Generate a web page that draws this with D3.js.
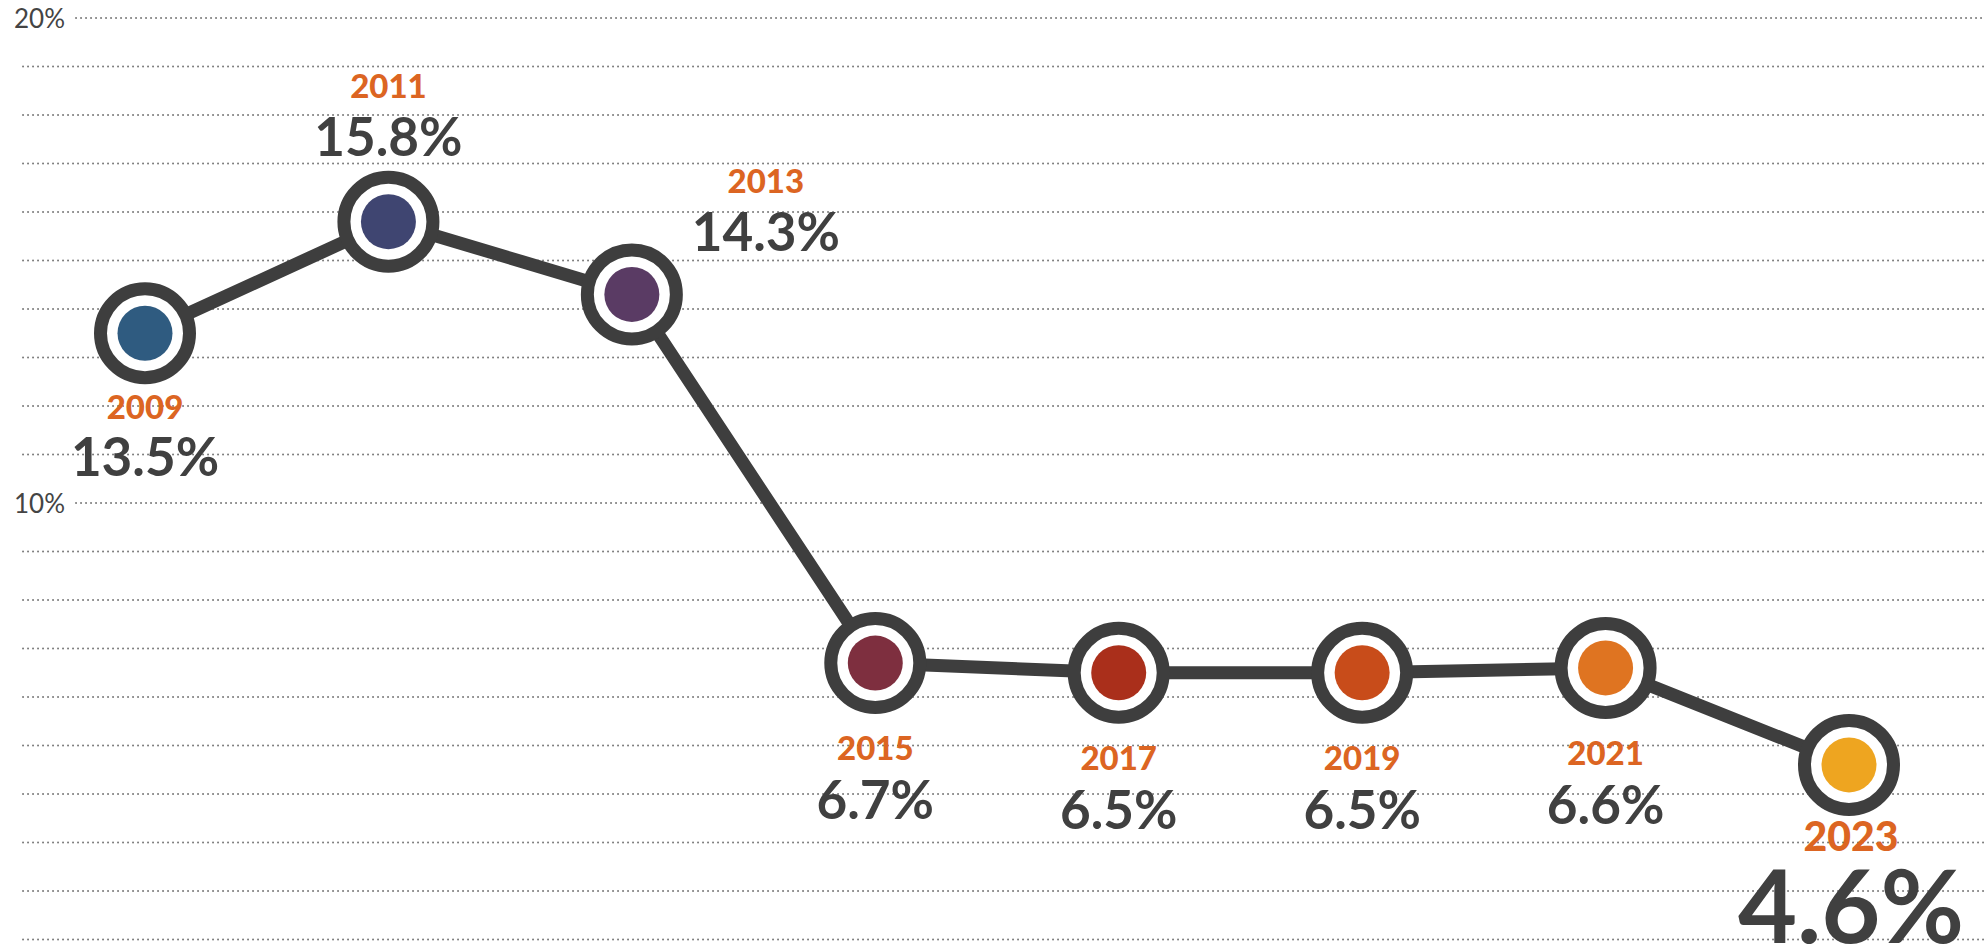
<!DOCTYPE html>
<html>
<head>
<meta charset="utf-8">
<script src="https://cdn.jsdelivr.net/npm/d3@7"></script>
<style>
  html, body { margin: 0; padding: 0; background: #fff; }
  svg { display: block; }
  text { font-family: Lato, "Open Sans", sans-serif; }
</style>
</head>
<body>
<div id="chart"></div>
<script>
// Data
const years = [2009, 2011, 2013, 2015, 2017, 2019, 2021, 2023];
const rates = [13.5, 15.8, 14.3, 6.7, 6.5, 6.5, 6.6, 4.6];
const gridValues = d3.range(1, 21); // one dotted line per percent
const tickLabels = [10, 20];
const dotColors = ['#2f5b80', '#3f4571', '#5a3b64', '#7e2f3f', '#aa2f1b', '#c84c1a', '#df7421', '#eea520'];

const width = 1985, height = 947;

const x = d3.scalePoint().domain(years).range([145, 1849]);
const y = d3.scaleLinear().domain([10, 20]).range([503, 18]);
const color = d3.scaleOrdinal().domain(years).range(dotColors);

const points = years.map((yr, i) => ({ year: yr, rate: rates[i] }));

// where the year/value pair sits relative to its marker
function placement(yr) {
	if (yr === 2011) return { dx: 0, dyYear: -124, dyVal: -66 };
	if (yr === 2013) return { dx: 134, dyYear: -101, dyVal: -43 };
	if (yr === 2009) return { dx: 0, dyYear: 86, dyVal: 143 };
	if (yr === 2023) return { dx: 2, dyYear: 86, dyVal: 178, big: true };
	return { dx: 0, dyYear: 97, dyVal: 156 };
}

const svg = d3.select('#chart').append('svg')
	.attr('width', width)
	.attr('height', height);

// Dotted grid
const grid = svg.append('g').attr('class', 'grid');
grid.selectAll('line')
	.data(gridValues)
	.join('line')
		.attr('x1', d => tickLabels.includes(d) ? 76 : 23)
		.attr('x2', width)
		.attr('y1', d => y(d))
		.attr('y2', d => y(d))
		.attr('stroke', '#7f7f7f')
		.attr('stroke-width', 2)
		.attr('stroke-linecap', 'round')
		.attr('stroke-dasharray', '0.1 4.9');

grid.selectAll('text')
	.data(tickLabels)
	.join('text')
		.attr('x', 65)
		.attr('y', d => y(d) + 10)
		.attr('text-anchor', 'end')
		.attr('font-size', 26)
		.attr('font-weight', 400)
		.attr('fill', '#444')
		.text(d => d + '%');

// Line
const line = d3.line()
	.x(d => x(d.year))
	.y(d => y(d.rate));

svg.append('path')
	.datum(points)
	.attr('d', line)
	.attr('fill', 'none')
	.attr('stroke', '#3e3e3e')
	.attr('stroke-width', 13)
	.attr('stroke-linejoin', 'round');

// Markers
const markers = svg.append('g').selectAll('g')
	.data(points)
	.join('g')
		.attr('transform', d => `translate(${x(d.year)},${y(d.rate)})`);

markers.append('circle')
	.attr('r', 44.5)
	.attr('fill', '#fff')
	.attr('stroke', '#3e3e3e')
	.attr('stroke-width', 13);

markers.append('circle')
	.attr('r', 27.5)
	.attr('fill', d => color(d.year));

// Labels
const labels = svg.append('g').selectAll('g')
	.data(points)
	.join('g')
		.attr('transform', d => `translate(${x(d.year) + placement(d.year).dx},${y(d.rate)})`);

labels.append('text')
	.attr('y', d => placement(d.year).dyYear)
	.attr('text-anchor', 'middle')
	.attr('font-size', d => placement(d.year).big ? 41 : 33)
	.attr('font-weight', 900)
	.attr('fill', '#dc6522')
	.text(d => d.year);

labels.append('text')
	.attr('y', d => placement(d.year).dyVal)
	.attr('text-anchor', 'middle')
	.attr('font-size', d => placement(d.year).big ? 102 : 53)
	.attr('font-weight', 700)
	.attr('fill', '#404040')
	.text(d => d3.format('.1f')(d.rate) + '%');
</script>
</body>
</html>
